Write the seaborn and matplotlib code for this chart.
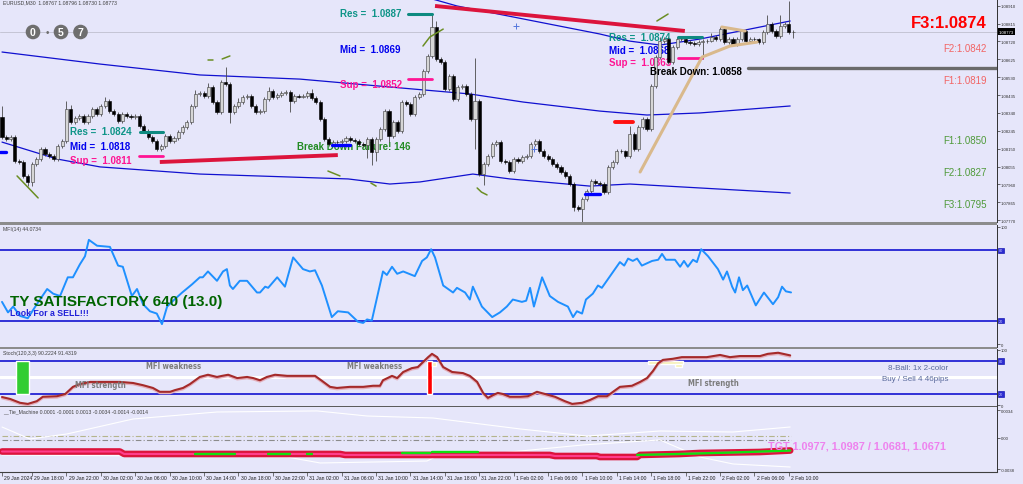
import matplotlib
matplotlib.use("Agg")
import matplotlib.pyplot as plt
import matplotlib.patches as mpatches
import matplotlib.patheffects as pe
import numpy as np
import seaborn as sns

W, H = 1023, 485
AX_R = 997  # right edge (px) of the plotting area
BG = "#E6E6FA"
PIP = 0.0001

# ---- EURUSD M30 candles (open of each bar = previous close) ----
first_open = 1.08318
closes = [
    1.08212, 1.08201, 1.08212, 1.08084, 1.08079, 1.08005, 1.07973, 1.08068, 1.08095, 1.08148,
    1.08122, 1.08111, 1.08095, 1.08164, 1.08191, 1.08361, 1.08292, 1.08313, 1.08324, 1.08292,
    1.08324, 1.08361, 1.08334, 1.08377, 1.08404, 1.08350, 1.08334, 1.08297, 1.08334, 1.08324,
    1.08318, 1.08324, 1.08270, 1.08244, 1.08212, 1.08191, 1.08148, 1.08164, 1.08217, 1.08191,
    1.08207, 1.08239, 1.08265, 1.08292, 1.08377, 1.08441,
    1.08446, 1.08430, 1.08478, 1.08398, 1.08345, 1.08505, 1.08494, 1.08345, 1.08377, 1.08398,
    1.08425, 1.08430, 1.08377, 1.08345, 1.08350, 1.08414, 1.08457, 1.08425, 1.08435, 1.08446,
    1.08451, 1.08404, 1.08430, 1.08427, 1.08432, 1.08446, 1.08419, 1.08398, 1.08308, 1.08201,
    1.08175, 1.08185, 1.08183, 1.08191, 1.08207, 1.08196, 1.08191, 1.08175, 1.08169, 1.08201,
    1.08132, 1.08201, 1.08255, 1.08350, 1.08217,
    1.08292, 1.08244, 1.08398, 1.08388, 1.08334, 1.08425, 1.08441, 1.08563, 1.08643, 1.08797,
    1.08627, 1.08611, 1.08467, 1.08536, 1.08414, 1.08478, 1.08483, 1.08441, 1.08308, 1.08404,
    1.08015, 1.08068, 1.08111, 1.08175, 1.08185, 1.08084, 1.08079, 1.08031, 1.08095, 1.08084,
    1.08106, 1.08111, 1.08175, 1.08191, 1.08138, 1.08111, 1.08095, 1.08068, 1.08053, 1.08026,
    1.08005, 1.07962, 1.07840, 1.07829, 1.07882, 1.07925, 1.07978, 1.07967, 1.07962,
    1.07919, 1.08053, 1.08079, 1.08138, 1.08135, 1.08111, 1.08228, 1.08148, 1.08265, 1.08308,
    1.08255, 1.08483, 1.08637, 1.08722, 1.08733, 1.08611, 1.08691, 1.08733, 1.08735, 1.08717,
    1.08712, 1.08707, 1.08717, 1.08722, 1.08725, 1.08744, 1.08733, 1.08786, 1.08717, 1.08733,
    1.08707, 1.08733, 1.08776, 1.08722, 1.08733, 1.08731, 1.08717, 1.08771, 1.08813, 1.08776,
    1.08749, 1.08802, 1.08813, 1.08771, 1.08773,
]
# wick lengths in pips above / below the body
up_wick = [
    6, 1, 1, 1, 1, 1, 1, 1, 1, 1, 1, 1, 1, 1, 1, 4, 2, 1, 1, 1,
    1, 1, 1, 1, 2, 1, 1, 1, 1, 1, 1, 1, 1, 1, 1, 1, 1, 1, 1, 1,
    1, 1, 1, 1, 1, 2, 1, 1, 2, 1, 1, 1, 8, 1, 1, 2, 1, 1, 1, 1,
    1, 1, 2, 1, 1, 1, 1, 1, 1, 1, 1, 1, 2, 1, 1, 1, 1, 1, 1, 1,
    1, 1, 1, 1, 1, 1, 1, 1, 1, 1, 1, 1, 1, 1, 1, 1, 1, 1, 1, 1,
    7, 3, 1, 1, 1, 1, 1, 1, 1, 1, 23, 1, 1, 1, 1, 1, 1, 1, 1, 1,
    1, 1, 1, 1, 1, 1, 1, 1, 1, 1, 1, 1, 1, 1, 1, 1, 1, 1, 1, 1,
    1, 1, 1, 1, 1, 1, 4, 1, 1, 1, 1, 1, 1, 2, 1, 1, 1, 1, 1, 1,
    1, 1, 1, 1, 1, 2, 1, 1, 1, 1, 1, 1, 1, 1, 1, 1, 1, 1, 5, 1,
    1, 6, 1, 12, 1,
]
low_wick = [
    1, 1, 1, 1, 1, 1, 2, 2, 1, 1, 1, 1, 1, 1, 1, 1, 1, 1, 1, 1,
    1, 1, 1, 1, 1, 1, 1, 1, 1, 1, 1, 1, 1, 1, 1, 1, 1, 1, 1, 1,
    1, 1, 1, 1, 1, 1, 1, 1, 1, 1, 1, 1, 1, 6, 1, 1, 1, 1, 1, 1,
    1, 1, 1, 1, 1, 1, 1, 6, 1, 1, 1, 1, 1, 1, 1, 1, 1, 1, 1, 1,
    1, 1, 1, 1, 1, 7, 7, 5, 1, 1, 3, 1, 1, 1, 1, 1, 1, 1, 1, 1,
    1, 1, 1, 1, 1, 1, 1, 1, 1, 1, 16, 1, 6, 1, 1, 1, 1, 1, 1, 1,
    1, 1, 1, 1, 1, 1, 1, 1, 1, 1, 1, 1, 1, 2, 1, 8, 1, 1, 1, 1,
    1, 1, 1, 1, 1, 1, 1, 1, 1, 1, 1, 1, 1, 1, 1, 1, 1, 1, 1, 1,
    1, 1, 1, 9, 1, 1, 1, 1, 1, 1, 1, 1, 1, 1, 1, 1, 1, 1, 1, 1,
    1, 1, 1, 1, 3,
]

# ---- envelope bands (bar position, price) ----
upper_pos = [98.4, 105.8, 121.2, 139, 146, 153, 162.3, 183.3]
upper_px = [1.08957, 1.08909, 1.08840, 1.08760, 1.08722, 1.08701, 1.08733, 1.08829]
mid_pos = [0, 22.8, 46, 69.3, 90.2, 108.8, 121.2, 139, 150, 162.3, 183.3]
mid_px = [1.08664, 1.08600, 1.08542, 1.08520, 1.08478, 1.08441, 1.08398, 1.08350, 1.08329, 1.08340, 1.08377]
low_pos = [0, 12.8, 22.8, 46, 80.5, 90.2, 97.2, 109.5, 118.1, 136.7, 146, 183.3]
low_px = [1.08185, 1.08095, 1.08053, 1.08015, 1.07989, 1.07962, 1.07973, 1.08015, 1.07989, 1.07951, 1.07962, 1.07914]

# trend lines and level marks: (start bar, end bar, start price, end price)
red_lines = [(36.7, 78.1, 1.08079, 1.08116), (100.7, 158.8, 1.08909, 1.08776)]
red_short = [(142.6, 146.7, 1.08292)]
teal_marks = [(32.1, 37.4, 1.08239), (94.4, 100, 1.08866), (157.2, 162.8, 1.08744)]
pink_marks = [(31.9, 37.4, 1.08111), (94.4, 100, 1.08520), (157.2, 162.8, 1.08632)]
blue_marks = [(-0.5, 0.9, 1.08132), (76.7, 80.9, 1.08169), (135.6, 139, 1.07909)]
breakdown = (173.5, 240, 1.08579)
tan_pos = [148.4, 162.8, 169.3, 175.6]
tan_px = [1.08026, 1.08637, 1.08696, 1.08717]
tan2_pos = [167.4, 172.8]
tan2_px = [1.08797, 1.08776]
zig_pos = [[3.5, 8.4], [47.9, 49.1], [51.2, 53], [75.8, 78.6], [85.8, 87],
           [97.9, 99.5, 102.6], [110.5, 111.5, 112.8], [152.3, 154.9]]
zig_px = [[1.08005, 1.07888], [1.08622, 1.08622], [1.08627, 1.08643], [1.08031, 1.08005],
          [1.07967, 1.07951], [1.08696, 1.08744, 1.08786], [1.07941, 1.07919, 1.07904],
          [1.08829, 1.08866]]
cross_pos = [119.5, 123.7]
cross_px = [1.08802, 1.08148]
price_ticks = [1.08910, 1.08815, 1.08720, 1.08625, 1.08530, 1.08435, 1.08340,
               1.08245, 1.08150, 1.08055, 1.07960, 1.07865, 1.07770]
last_price = 1.08773

# ---- MFI(14) ----
mfi_pos = [0, 1.4, 2.6, 4.2, 6, 8.1, 10.5, 11.9, 13.5, 15.3,
           16.5, 18.1, 19.3, 20.2, 22.1, 25.1, 27, 28.1, 30.2, 31.4,
           32.8, 34.4, 36, 37.2, 38.4, 39.8, 41.9, 44.2, 46, 46.7,
           47.9, 50, 51.4, 52.3, 53, 53.7, 55.3, 57, 59.3, 60,
           61.2, 61.9, 64, 65.8, 67.7, 70, 71.6, 72.8, 74.4, 76.7,
           78.1, 80.5, 82.8, 84, 84.9, 86, 88.6, 89.5, 90.7, 91.9,
           93.3, 96, 97.7, 98.8, 99.8, 100.7, 102.6, 104.9, 105.8, 107.7,
           108.8, 109.5, 111.6, 114, 115.8, 117.4, 118.8, 120.9, 121.9, 122.8,
           123.7, 125.6, 127.4, 129.3, 131.6, 132.8, 133.7, 134.9, 135.8, 137.4,
           138.6, 139.5, 143.7, 144.7, 145.6, 146.7, 147.7, 148.8, 151.2, 152.6,
           153.5, 154.4, 156.5, 157.7, 158.6, 159.5, 160.7, 161.6, 162.6, 164.2,
           166.5, 167.7, 168.6, 169.8, 170.5, 171.4, 172.3, 173.3, 175.3, 177.2,
           179.3, 180.5, 181.4, 182.3, 183.5]
mfi_vals = [36, 27, 32, 24, 22, 34, 47, 43, 41, 57,
            57, 68, 75, 89, 84, 83, 67, 66, 41, 47,
            34, 28, 26, 17, 32, 37, 44, 51, 57, 57,
            62, 54, 62, 64, 50, 47, 54, 54, 44, 44,
            49, 48, 57, 49, 74, 64, 62, 63, 50, 23,
            28, 27, 19, 18, 21, 20, 62, 59, 66, 60,
            62, 58, 71, 74, 81, 74, 50, 44, 48, 44,
            38, 49, 32, 23, 27, 32, 38, 36, 37, 48,
            32, 57, 41, 36, 32, 23, 28, 26, 38, 43,
            50, 48, 70, 67, 73, 71, 73, 67, 71, 72,
            77, 72, 72, 66, 71, 66, 72, 70, 81, 75,
            64, 55, 62, 49, 44, 57, 46, 50, 33, 44,
            34, 40, 49, 45, 44.07]

# ---- Stoch(120,3,3) ----
sto_pos = [0, 1.9, 4.2, 6, 8.1, 9.5, 12.8, 14.7, 16.5, 18.1,
           20.5, 25.1, 27.4, 30.5, 32.8, 35.1, 36.7, 39.1, 40.2, 42.1,
           43.7, 46, 47.9, 50, 51.2, 52.6, 54.7, 57, 58.4, 60,
           61.6, 63.5, 66.3, 69.3, 72.8, 74.4, 76.3, 77.9, 80.9, 84,
           86.3, 87.9, 88.6, 90.7, 91.9, 93.3, 95.3, 96.7, 97.9, 99.1,
           100, 101.2, 102.6, 104.7, 107.2, 108.8, 110.5, 111.9, 113, 114.2,
           115.3, 116.5, 118.1, 120.5, 122.3, 124.4, 126.3, 128.6, 130.9, 132.6,
           134.9, 136.7, 138.6, 140.7, 142.1, 143.7, 146.5, 148.4, 150, 151.4,
           152.6, 153.7, 156, 158.1, 160.7, 163.9, 167, 169.3, 171.6, 176.3,
           178.1, 180.5, 183.3]
sto_vals = [14.5, 11, 4, 2, 7, 15, 16, 20, 33, 38,
            42, 42, 42, 40, 36, 31, 24, 24, 27, 31,
            38, 51, 55, 51, 53, 55, 49, 51, 49, 45,
            51, 55, 53, 53, 53, 44, 33, 31, 33, 33,
            35, 35, 45, 53, 49, 60, 67, 69, 78, 87,
            93, 87, 69, 60, 58, 53, 42, 22, 13, 18,
            22, 20, 15, 15, 16, 24, 20, 15, 7, 2,
            4, 9, 16, 16, 24, 33, 35, 42, 49, 62,
            76, 82, 84, 87, 87, 87, 91, 87, 89, 89,
            93, 95, 90.2]

# ---- Tie_Machine ----
tie_pos = [0, 27.4, 28.4, 78.6, 79.8, 127.4, 128.6, 138.4, 139, 147.7, 148.4, 157.7, 162.3, 176.3, 183.3]
tie_vals = [-0.00165, -0.00165, -0.00195, -0.00195, -0.00207, -0.00207, -0.00220, -0.00220,
            -0.00232, -0.00232, -0.00207, -0.00195, -0.00183, -0.00171, -0.00153]
green_runs = [([44.9, 54.2], [-0.00195, -0.00195]), ([61.9, 67], [-0.00195, -0.00195]),
              ([70.9, 72.1], [-0.00195, -0.00195]), ([93, 99.5], [-0.00187, -0.00187]),
              ([100, 110.7], [-0.00167, -0.00167]),
              ([147.7, 157.7, 170, 183.3], [-0.00207, -0.00195, -0.00177, -0.00153])]
env_up_pos = [0, 6.5, 15.1, 30.5, 50, 73.3, 84.9, 100.2, 120.5, 136, 153, 170, 183.3]
env_up = [0.00134, -0.00012, 0.00049, 0.00232, 0.00317, 0.00330, 0.00268, 0.00244,
          0.00110, 0.00024, 0.00085, 0.00073, 0.00134]
env_lo_pos = [0, 66.3, 74, 98.8, 101.9, 115.8, 135.1, 153, 162.3, 170, 183.3]
env_lo = [-0.00207, -0.00232, -0.00305, -0.00281, -0.00207, -0.00183, -0.00085,
          -0.00024, -0.00232, -0.00317, -0.00354]

time_pos = [0, 7, 15, 23, 31, 39, 47, 55, 63, 71, 79, 87, 95, 103, 111, 119, 127,
            135, 143, 151, 159, 167, 175, 183]
time_labels = ["29 Jan 2024", "29 Jan 18:00", "29 Jan 22:00", "30 Jan 02:00", "30 Jan 06:00",
               "30 Jan 10:00", "30 Jan 14:00", "30 Jan 18:00", "30 Jan 22:00", "31 Jan 02:00",
               "31 Jan 06:00", "31 Jan 10:00", "31 Jan 14:00", "31 Jan 18:00", "31 Jan 22:00",
               "1 Feb 02:00", "1 Feb 06:00", "1 Feb 10:00", "1 Feb 14:00", "1 Feb 18:00",
               "1 Feb 22:00", "2 Feb 02:00", "2 Feb 06:00", "2 Feb 10:00"]

sns.set_style("white")
plt.rcParams["font.family"] = ["Liberation Sans", "DejaVu Sans"]

fig = plt.figure(figsize=(W / 100, H / 100), dpi=100, facecolor=BG)
XLIM = (-0.465, (AX_R - 2) / 4.3)


def box(x0, y0, x1, y1):
    return [x0 / W, 1 - y1 / H, (x1 - x0) / W, (y1 - y0) / H]


def put(axis, x, y, s, **kw):
    kw.setdefault("va", "center")
    kw.setdefault("ha", "left")
    return axis.text(x / W, 1 - y / H, s, transform=fig.transFigure, **kw)


ax = fig.add_axes(box(0, 0, AX_R, 223))
ax_mfi = fig.add_axes(box(0, 226, AX_R, 348))
ax_sto = fig.add_axes(box(0, 350, AX_R, 406.5))
ax_tie = fig.add_axes(box(0, 408, AX_R, 473))
for a in (ax, ax_mfi, ax_sto, ax_tie):
    a.set_facecolor(BG)
    for s in ("left", "top", "bottom"):
        a.spines[s].set_visible(False)
    a.spines["right"].set_color("#303030")
    a.spines["right"].set_linewidth(0.7)
    a.yaxis.tick_right()
    a.tick_params(axis="y", length=1.8, width=0.5, labelsize=3.1, pad=1.0, colors="#303030")
    a.tick_params(axis="x", bottom=False, labelbottom=False)

# ---------------- main price panel ----------------
c = np.array(closes)
o = np.r_[first_open, c[:-1]]
bars = np.arange(len(c))
top = np.maximum(o, c)
bot = np.minimum(o, c)
highs = top + np.array(up_wick) * PIP
lows = bot - np.array(low_wick) * PIP
body = np.maximum(top - bot, 0.00002)
bull = c >= o

for pos, px in ((upper_pos, upper_px), (mid_pos, mid_px), (low_pos, low_px)):
    sns.lineplot(x=pos, y=px, ax=ax, color="#1010d0", lw=0.9, zorder=2)
ax.axhline(last_price, color="#c4c4d4", lw=0.7, zorder=1)

ax.vlines(bars, lows, highs, color="#4a4a4a", lw=0.6, zorder=3)
ax.bar(bars[bull], body[bull], bottom=bot[bull], width=0.7, color="#d6d6d6",
       edgecolor="#3a3a3a", linewidth=0.4, zorder=4)
ax.bar(bars[~bull], body[~bull], bottom=bot[~bull], width=0.7, color="black",
       edgecolor="black", linewidth=0.4, zorder=4)

for x0, x1, p0, p1 in red_lines:
    ax.plot([x0, x1], [p0, p1], color="#dc143c", lw=2.8, solid_capstyle="butt", zorder=5)
for x0, x1, p in red_short:
    ax.plot([x0, x1], [p, p], color="#ff1010", lw=2.8, solid_capstyle="round", zorder=5)
for x0, x1, p in teal_marks:
    ax.plot([x0, x1], [p, p], color="#0e8a80", lw=2.2, zorder=5)
for x0, x1, p in pink_marks:
    ax.plot([x0, x1], [p, p], color="#ff1493", lw=2.0, zorder=5)
for x0, x1, p in blue_marks:
    ax.plot([x0, x1], [p, p], color="#0000ff", lw=2.4, zorder=5)
ax.plot([breakdown[0], breakdown[1]], [breakdown[2]] * 2, color="#6a6a6a", lw=2.4, zorder=5)
ax.plot(tan_pos, tan_px, color="#d9b98c", lw=2.2, zorder=5)
ax.plot(tan2_pos, tan2_px, color="#d9b98c", lw=2.2, zorder=5)
for zp, zv in zip(zig_pos, zig_px):
    ax.plot(zp, zv, color="#6b8e23", lw=1.1, zorder=5)
ax.scatter(cross_pos, cross_px, marker="+", s=14, color="#5577dd", lw=0.7, zorder=5)

ax.set_xlim(*XLIM)
ax.set_ylim(1.07760, 1.08946)
ax.set_yticks(price_ticks, [f"{p:.5f}" for p in price_ticks])
ax.set_xlabel("")
ax.set_ylabel("")
ax.text(1.002, last_price, f"{last_price:.5f}", transform=ax.get_yaxis_transform(),
        fontsize=3.1, color="white", va="center", ha="left",
        bbox=dict(boxstyle="square,pad=0.25", fc="black", ec="none"), zorder=10, clip_on=False)

put(ax, 3, 3, "EURUSD,M30  1.08767 1.08796 1.08730 1.08773", fontsize=3.7, color="#404040")
for cx, digit in ((33, "0"), (61, "5"), (80.5, "7")):
    ax.add_artist(mpatches.Circle((cx / 100, (H - 33) / 100), 0.066, transform=fig.dpi_scale_trans,
                                  color="#6e6e6e", zorder=6, clip_on=False))
    put(ax, cx, 33.5, digit, ha="center", fontsize=7.5, weight="bold", color="white", zorder=7)
put(ax, 47, 33, "\u2022", ha="center", fontsize=7, color="#6e6e6e", zorder=7)

lbl = dict(fontsize=7, weight="bold", zorder=2)
put(ax, 70, 132, "Res =  1.0824", color="#0e9488", **lbl)
put(ax, 70, 147, "Mid =  1.0818", color="#0000ee", **lbl)
put(ax, 70, 161, "Sup =  1.0811", color="#ff1493", **lbl)
put(ax, 340, 14, "Res =  1.0887", color="#0e9488", **lbl)
put(ax, 340, 50, "Mid =  1.0869", color="#0000ee", **lbl)
put(ax, 340, 85, "Sup =  1.0852", color="#ff1493", **lbl)
put(ax, 609, 38, "Res =  1.0874", color="#0e9488", **lbl)
put(ax, 609, 51, "Mid =  1.0868", color="#0000ee", **lbl)
put(ax, 609, 63, "Sup =  1.0863", color="#ff1493", **lbl)
put(ax, 297, 147, "Break Down Failure! 146", color="#228b22", **lbl)
put(ax, 650, 72, "Break Down: 1.0858", fontsize=7, weight="bold", color="black", zorder=8)

put(ax, 987, 23, "F3:1.0874", ha="right", fontsize=12, weight="bold", color="#ff0000", zorder=8)
for y, s, col in ((49, "F2:1.0842", "#f26464"), (81, "F1:1.0819", "#f26464"),
                  (141, "F1:1.0850", "#4f9a3a"), (173, "F2:1.0827", "#4f9a3a"),
                  (205, "F3:1.0795", "#4f9a3a")):
    put(ax, 987, y, s, ha="right", fontsize=7, color=col, zorder=8)

# ---------------- MFI panel ----------------
for lv in (80, 20):
    ax_mfi.axhline(lv, color="#0000cd", lw=1.1, zorder=1)
    ax_mfi.text(1.002, lv, str(lv), transform=ax_mfi.get_yaxis_transform(), fontsize=2.8,
                color="#d0d0ff", va="center", ha="left", clip_on=False,
                bbox=dict(boxstyle="square,pad=0.15", fc="#2b2bd0", ec="#0000aa", lw=0.4))
sns.lineplot(x=mfi_pos, y=mfi_vals, ax=ax_mfi, color="#1e90ff", lw=1.4, zorder=3)
ax_mfi.set_xlim(*XLIM)
ax_mfi.set_ylim(-2.56, 101.7)
ax_mfi.set_yticks([0, 100], ["0", "100"])
ax_mfi.set_xlabel("")
ax_mfi.set_ylabel("")
put(ax_mfi, 3, 230, "MFI(14) 44.0734", fontsize=3.7, color="#404040")
put(ax_mfi, 10, 302, "TY SATISFACTORY 640 (13.0)", fontsize=11, weight="bold", color="#006400", zorder=4)
put(ax_mfi, 10, 313, "Look For a SELL!!!", fontsize=6.3, weight="bold", color="#2020d8", zorder=4)

# ---------------- Stochastic panel ----------------
ax_sto.axhline(50, color="white", lw=2.2, zorder=1)
for lv in (80, 20):
    ax_sto.axhline(lv, color="#0000cd", lw=1.1, zorder=2)
    ax_sto.text(1.002, lv, str(lv), transform=ax_sto.get_yaxis_transform(), fontsize=2.8,
                color="#d0d0ff", va="center", ha="left", clip_on=False,
                bbox=dict(boxstyle="square,pad=0.15", fc="#2b2bd0", ec="#0000aa", lw=0.4))
ax_sto.bar([4.77], [60], bottom=20, width=3.0, color="#32cd32", zorder=2)
ax_sto.bar([99.4], [60], bottom=20, width=1.2, color="#ff0000", zorder=2)
ax_sto.bar([154.3, 157.3, 100.5], [5, 6, 7], bottom=[75, 69, 71], width=[8.2, 1.6, 1.0],
           color="#f6f0b4", zorder=2)
sns.lineplot(x=sto_pos, y=sto_vals, ax=ax_sto, color="#a52a2a", lw=1.5, zorder=3,
             path_effects=[pe.SimpleLineShadow(offset=(0, -1.0), shadow_color="#e4b0bc", alpha=1),
                           pe.Normal()])
ax_sto.set_xlim(*XLIM)
ax_sto.set_ylim(-0.9, 101.8)
ax_sto.set_yticks([0, 100], ["0", "100"])
ax_sto.set_xlabel("")
ax_sto.set_ylabel("")
put(ax_sto, 3, 354, "Stoch(120,3,3) 90.2224 91.4319", fontsize=3.7, color="#404040")
wk = dict(fontsize=5.6, weight="bold", color="#7c7c7c", fontstretch="condensed",
          family="DejaVu Sans", zorder=4)
put(ax_sto, 146, 367, "MFI weakness", **wk)
put(ax_sto, 347, 367, "MFI weakness", **wk)
put(ax_sto, 75, 386, "MFI strength", **wk)
put(ax_sto, 688, 384, "MFI strength", **wk)
put(ax_sto, 948, 369, "8-Ball: 1x 2-color", ha="right", fontsize=5.8, color="#5a6a9c")
put(ax_sto, 948, 380, "Buy / Sell 4 46pips", ha="right", fontsize=5.8, color="#5a6a9c")

# ---------------- Tie_Machine panel ----------------
ax_tie.plot([0, 183.5], [0.0002, 0.0002], color="#b4b48c", lw=0.8, dashes=(5, 2, 1, 2))
ax_tie.plot([0, 183.5], [-0.0002, -0.0002], color="#8c8c8c", lw=0.8, dashes=(5, 2, 1, 2))
sns.lineplot(x=env_up_pos, y=env_up, ax=ax_tie, color="white", lw=0.8, zorder=2)
sns.lineplot(x=env_lo_pos, y=env_lo, ax=ax_tie, color="white", lw=0.8, zorder=2)
ax_tie.plot(tie_pos, tie_vals, color="#dc143c", lw=4.8, solid_capstyle="round", zorder=3)
ax_tie.plot(tie_pos, tie_vals, color="#ff3d8b", lw=1.5, zorder=4)
for gp, gv in green_runs:
    ax_tie.plot(gp, gv, color="#10e010", lw=1.7, zorder=5)
ax_tie.set_xlim(*XLIM)
ax_tie.set_ylim(-0.00415, 0.00378)
ax_tie.set_yticks([0.0034, 0.0, -0.0038], ["0.0034", "0.00", "-0.0038"])
ax_tie.set_xlabel("")
ax_tie.set_ylabel("")
ax_tie.spines["bottom"].set_visible(True)
ax_tie.spines["bottom"].set_color("#404040")
ax_tie.spines["bottom"].set_linewidth(0.8)
ax_tie.set_xticks(time_pos)
ax_tie.tick_params(axis="x", bottom=True, labelbottom=False, length=3, width=0.5, colors="#404040")
for tp, tl in zip(time_pos, time_labels):
    ax_tie.text(tp + 0.5, -0.085, tl, transform=ax_tie.get_xaxis_transform(), fontsize=3.7,
                color="#202020", va="center", ha="left", clip_on=False)
put(ax_tie, 3, 412, "__Tie_Machine 0.0001 -0.0001 0.0013 -0.0034 -0.0014 -0.0014",
    fontsize=3.7, color="#404040")
put(ax_tie, 768, 447, "TGT 1.0977, 1.0987 / 1.0681, 1.0671", fontsize=7.8, weight="bold",
    color="#ee82ee", zorder=6)

# panel separators
for y0, y1, col in ((223, 226, "#8c8c8c"), (348, 350, "#8c8c8c"), (406.5, 408, "#5c5c5c")):
    fig.add_artist(mpatches.Rectangle((0, 1 - y1 / H), AX_R / W, (y1 - y0) / H,
                                      transform=fig.transFigure, color=col, lw=0))

fig.savefig("out.png", dpi=100, facecolor=BG)
